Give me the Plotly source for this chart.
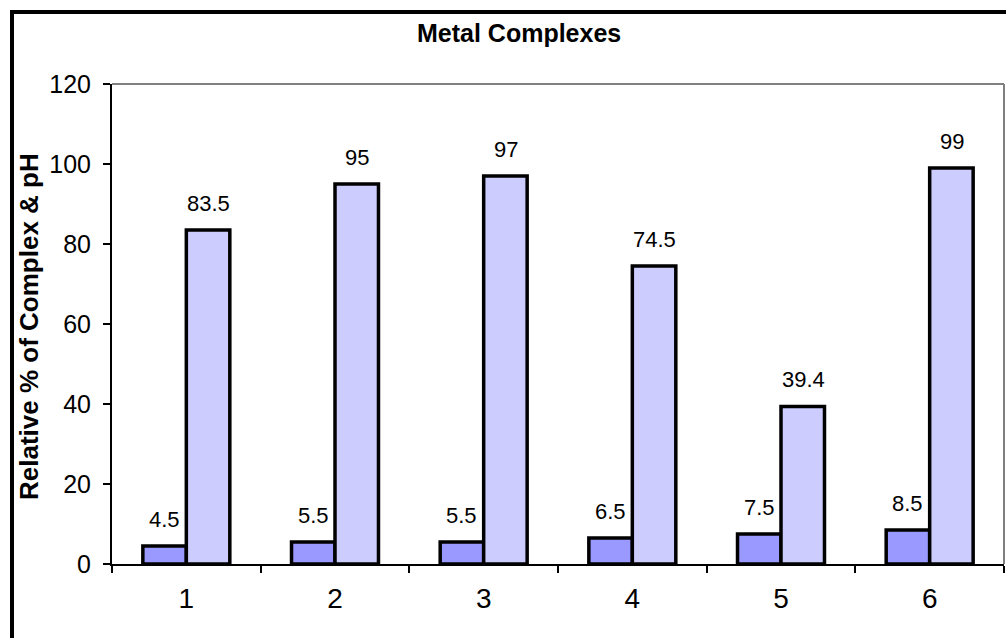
import plotly.graph_objects as go

categories = ["1", "2", "3", "4", "5", "6"]
ph_values = [4.5, 5.5, 5.5, 6.5, 7.5, 8.5]
complex_values = [83.5, 95, 97, 74.5, 39.4, 99]
y_ticks = [0, 20, 40, 60, 80, 100, 120]

FONT = "Liberation Sans, Arial, sans-serif"
W, H = 1006, 638
L, R, T, B = 112, 2, 84, 74
pw, ph = W - L - R, H - T - B

fig = go.Figure()
fig.add_trace(go.Bar(x=categories, y=ph_values, name="pH",
                     marker=dict(color="#9999FF", line=dict(color="black", width=3.5))))
fig.add_trace(go.Bar(x=categories, y=complex_values, name="Relative % of Complex",
                     marker=dict(color="#CCCCFF", line=dict(color="black", width=3.5))))

annotations = []
# on a category axis, annotation x is the category index
for i, v in enumerate(ph_values):
    annotations.append(dict(x=i, y=v, xref="x", yref="y", text=f"{v:g}", showarrow=False,
                            xshift=-22, yshift=12, yanchor="bottom",
                            font=dict(family=FONT, size=22, color="black")))
for i, v in enumerate(complex_values):
    annotations.append(dict(x=i, y=v, xref="x", yref="y", text=f"{v:g}", showarrow=False,
                            xshift=22, yshift=12, yanchor="bottom",
                            font=dict(family=FONT, size=22, color="black")))
annotations.append(dict(x=(29 - L) / pw, y=(H - B - 327) / ph, xref="paper", yref="paper",
                        text="<b>Relative % of Complex & pH</b>", textangle=-90,
                        showarrow=False, xanchor="center", yanchor="middle",
                        font=dict(family=FONT, size=26, color="black")))
annotations.append(dict(x=(519 - L) / pw, y=(H - B - 33) / ph, xref="paper", yref="paper",
                        text="<b>Metal Complexes</b>", showarrow=False,
                        xanchor="center", yanchor="middle",
                        font=dict(family=FONT, size=25, color="black")))

shapes = [
    dict(type="rect", xref="paper", yref="paper",
         x0=(12 - L) / pw, x1=(W + 30 - L) / pw,
         y0=(H - B - (H + 30)) / ph, y1=(H - B - 12) / ph,
         line=dict(color="black", width=4), fillcolor="rgba(0,0,0,0)"),
    dict(type="line", xref="paper", yref="paper", x0=0, x1=1, y0=1, y1=1,
         line=dict(color="#808080", width=2)),
    dict(type="line", xref="paper", yref="paper", x0=1, x1=1, y0=0, y1=1,
         line=dict(color="#808080", width=2)),
]

fig.update_layout(
    width=W, height=H,
    margin=dict(l=L, r=R, t=T, b=B),
    paper_bgcolor="white", plot_bgcolor="white",
    barmode="group", bargap=0.415, bargroupgap=0,
    showlegend=False,
    font=dict(family=FONT, color="black"),
    annotations=annotations, shapes=shapes,
    xaxis=dict(type="category", range=[-0.5, len(categories) - 0.5],
               showgrid=False, showline=True, linecolor="black", linewidth=2,
               ticks="outside", tickson="boundaries", ticklen=7, tickwidth=2,
               tickcolor="black", tickfont=dict(family=FONT, size=28, color="black"),
               ticklabelstandoff=8, zeroline=False),
    yaxis=dict(range=[0, 120], tickvals=y_ticks, showgrid=False, showline=True,
               linecolor="black", linewidth=2, ticks="outside", ticklen=7, tickwidth=2,
               tickcolor="black", tickfont=dict(family=FONT, size=25, color="black"),
               ticklabelstandoff=7, zeroline=False),
)

fig.write_html("out.html")
